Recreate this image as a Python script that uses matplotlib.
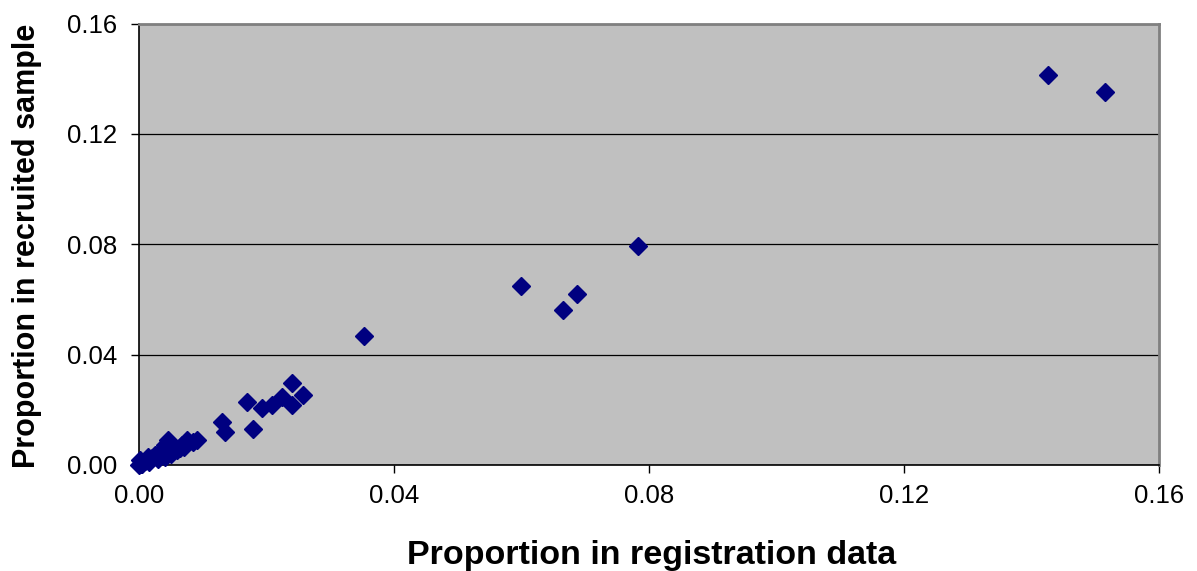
import matplotlib
matplotlib.use("Agg")
import matplotlib.pyplot as plt
from matplotlib.ticker import FixedLocator, FormatStrFormatter

# Proportion in registration data (x) vs proportion in recruited sample (y)
reg_prop = [0.1426, 0.1515, 0.0783, 0.0599, 0.0665, 0.0687, 0.0353,
            0.0240, 0.0257, 0.0224, 0.0240, 0.0209, 0.0193, 0.0169,
            0.0130, 0.0135, 0.0179,
            0.0091, 0.0075, 0.0067, 0.0046, 0.0041, 0.0033, 0.0025,
            0.0014, 0.0002, 0.0000, 0.0003, 0.0005, 0.0010, 0.0015,
            0.0020, 0.0030, 0.0035, 0.0040, 0.0050, 0.0060, 0.0065,
            0.0070, 0.0085]
rec_prop = [0.1412, 0.1350, 0.0793, 0.0648, 0.0561, 0.0619, 0.0467,
            0.0297, 0.0253, 0.0246, 0.0217, 0.0217, 0.0206, 0.0228,
            0.0156, 0.0120, 0.0130,
            0.0090, 0.0090, 0.0072, 0.0090, 0.0072, 0.0047, 0.0036,
            0.0029, 0.0018, 0.0000, 0.0005, 0.0002, 0.0015, 0.0010,
            0.0025, 0.0020, 0.0040, 0.0030, 0.0040, 0.0055, 0.0060,
            0.0065, 0.0085]

ticks = [0.00, 0.04, 0.08, 0.12, 0.16]
xlabel = "Proportion in registration data"
ylabel = "Proportion in recruited sample"

plt.rcParams['font.family'] = ['Liberation Sans', 'DejaVu Sans']

W, H = 1197, 571
fig = plt.figure(figsize=(W / 100, H / 100), dpi=100)
ax = fig.add_axes([139 / W, 1 - 465 / H, (1159 - 139) / W, (465 - 23.5) / H])
ax.set_facecolor('#C0C0C0')

ax.plot(reg_prop, rec_prop, linestyle='none', marker='D', markersize=8.8,
        color='#000080', markeredgecolor='#000080', clip_on=False, zorder=3)

ax.set_xlim(0, 0.16)
ax.set_ylim(0, 0.16)
ax.xaxis.set_major_locator(FixedLocator(ticks))
ax.yaxis.set_major_locator(FixedLocator(ticks))
ax.xaxis.set_major_formatter(FormatStrFormatter('%.2f'))
ax.yaxis.set_major_formatter(FormatStrFormatter('%.2f'))

ax.yaxis.grid(True, color='black', linewidth=0.9)
ax.xaxis.grid(False)
ax.set_axisbelow(True)

ax.tick_params(axis='both', direction='out', length=6, width=1, color='black',
               labelsize=18.5)
ax.tick_params(axis='x', pad=8)
ax.tick_params(axis='y', pad=9.5)

for side in ['left', 'bottom']:
    ax.spines[side].set_color('black')
    ax.spines[side].set_linewidth(1.2)
for side in ['top', 'right']:
    ax.spines[side].set_color('#808080')
    ax.spines[side].set_linewidth(2)

fig.text(652 / W, 1 - 564 / H, xlabel, fontsize=24.5, fontweight='bold',
         ha='center', va='baseline')
fig.text(35 / W, 1 - 246 / H, ylabel, fontsize=22, fontweight='bold',
         ha='center', va='baseline', rotation=90, rotation_mode='anchor')

fig.savefig('out.png', dpi=100)
